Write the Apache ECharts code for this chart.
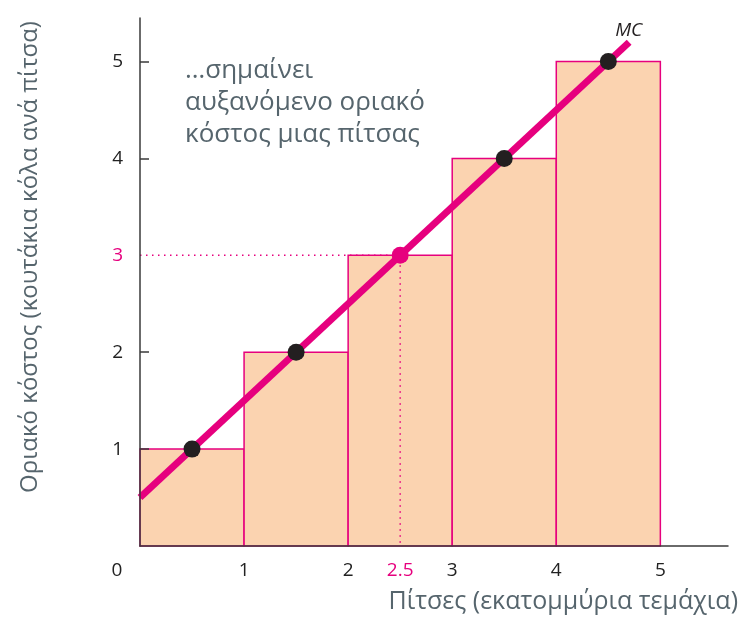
<!DOCTYPE html>
<html>
<head>
<meta charset="utf-8">
<script src="https://cdn.jsdelivr.net/npm/echarts@6/dist/echarts.min.js"></script>
<style>
  html, body { margin: 0; padding: 0; background: #ffffff; }
  #chart { width: 741px; height: 620px; }
</style>
</head>
<body>
<div id="chart"></div>
<script>
// Marginal cost steps: each pizza unit (millions) and its marginal cost
const binStart = [0, 1, 2, 3, 4];
const binEnd = [1, 2, 3, 4, 5];
const stepCost = [1, 2, 3, 4, 5];

// Marginal cost curve endpoints
const mcX = [0, 4.7];
const mcY = [0.5, 5.2];

// Midpoint dots on the MC curve
const dotX = [0.5, 1.5, 2.5, 3.5, 4.5];
const dotY = [1, 2, 3, 4, 5];

// Highlighted reading
const highlightX = 2.5;
const highlightY = 3;

// Tick labels
const xTickValues = [0, 1, 2, 2.5, 3, 4, 5];
const yTickValues = [1, 2, 3, 4, 5];
const yTickMarks = [1, 2, 4, 5];

const PINK = '#e6007e';
const FILL = '#fbd3b0';
const AXIS = '#3a3a3a';
const TEXT_GREY = '#56656d';
const FONT = '"Open Sans", "Noto Sans", sans-serif';

const chart = echarts.init(document.getElementById('chart'), null, { renderer: 'canvas' });

const steps = binStart.map((s, i) => [s, binEnd[i], stepCost[i]]);
const mcLine = mcX.map((x, i) => [x, mcY[i]]);
const dots = dotX.map((x, i) => ({
  value: [x, dotY[i]],
  itemStyle: { color: x === highlightX ? PINK : '#231f20', opacity: 1 }
}));

chart.setOption({
  animation: false,
  grid: { left: 140, top: 18, right: 13, bottom: 74 },
  xAxis: {
    type: 'value',
    min: 0,
    max: 5.65,
    z: 10,
    splitLine: { show: false },
    axisLine: { lineStyle: { color: AXIS, width: 1.5 } },
    axisTick: { show: false },
    axisLabel: {
      customValues: xTickValues,
      margin: 15,
      fontFamily: FONT,
      fontSize: 19,
      color: '#222',
      formatter: v => v === highlightX ? '{h|' + v + '}' : (v === 0 ? '{z|0}' : String(v)),
      rich: {
        h: { color: PINK, fontFamily: FONT, fontSize: 19 },
        z: { color: '#222', fontFamily: FONT, fontSize: 19, padding: [0, 46, 0, 0] }
      }
    },
    name: 'Πίτσες (εκατομμύρια τεμάχια)',
    nameLocation: 'end',
    nameGap: 0,
    nameTextStyle: {
      fontFamily: FONT,
      fontSize: 25,
      color: TEXT_GREY,
      align: 'right',
      verticalAlign: 'top',
      padding: [43, -10, 0, 0]
    }
  },
  yAxis: {
    type: 'value',
    min: 0,
    max: 5.45,
    z: 10,
    splitLine: { show: false },
    axisLine: { lineStyle: { color: AXIS, width: 1.5 } },
    axisTick: {
      show: true,
      inside: true,
      length: 9,
      customValues: yTickMarks,
      lineStyle: { color: AXIS, width: 1.5 }
    },
    axisLabel: {
      customValues: yTickValues,
      margin: 17,
      fontFamily: FONT,
      fontSize: 19,
      color: '#222',
      formatter: v => v === highlightY ? '{h|' + v + '}' : String(v),
      rich: { h: { color: PINK, fontFamily: FONT, fontSize: 19 } }
    }
  },
  series: [
    {
      type: 'custom',
      z: 1,
      data: steps,
      encode: { x: [0, 1], y: 2 },
      renderItem: (params, api) => {
        const p0 = api.coord([api.value(0), api.value(2)]);
        const p1 = api.coord([api.value(1), 0]);
        return {
          type: 'rect',
          shape: { x: p0[0], y: p0[1], width: p1[0] - p0[0], height: p1[1] - p0[1] },
          style: { fill: FILL, stroke: PINK, lineWidth: 1.5 }
        };
      }
    },
    {
      type: 'line',
      z: 3,
      data: [[0, highlightY], [highlightX, highlightY], [highlightX, 0]],
      symbol: 'none',
      lineStyle: { color: PINK, width: 1.5, type: [1.5, 4.5] },
      silent: true
    },
    {
      type: 'line',
      z: 4,
      data: mcLine,
      symbol: 'none',
      lineStyle: { color: PINK, width: 7, cap: 'butt' },
      endLabel: {
        show: true,
        formatter: 'MC',
        fontFamily: FONT,
        fontStyle: 'italic',
        fontSize: 19,
        color: '#231f20',
        offset: [-22, -12]
      }
    },
    {
      type: 'scatter',
      z: 5,
      data: dots,
      symbol: 'circle',
      symbolSize: 17
    }
  ],
  graphic: [
    {
      type: 'text',
      left: 185,
      top: 55,
      z: 20,
      style: {
        text: '…σημαίνει\nαυξανόμενο οριακό\nκόστος μιας πίτσας',
        fontFamily: FONT,
        fontSize: 26,
        lineHeight: 32,
        fill: TEXT_GREY
      }
    },
    {
      type: 'text',
      x: 30,
      y: 257,
      rotation: Math.PI / 2,
      z: 20,
      style: {
        text: 'Οριακό κόστος (κουτάκια κόλα ανά πίτσα)',
        fontFamily: FONT,
        fontSize: 24,
        fill: TEXT_GREY,
        align: 'center',
        verticalAlign: 'middle'
      }
    }
  ]
});
</script>
</body>
</html>
